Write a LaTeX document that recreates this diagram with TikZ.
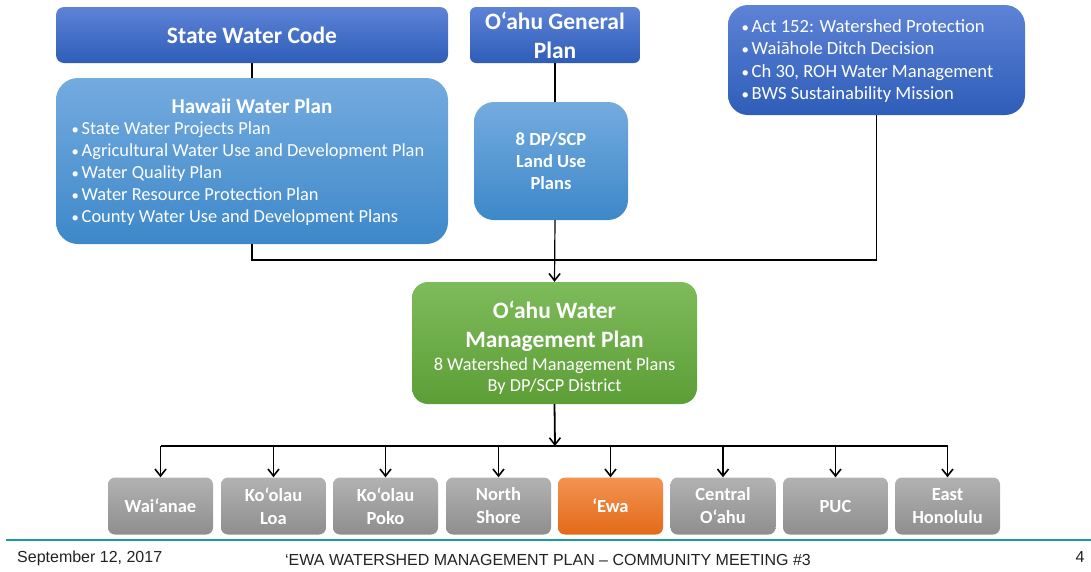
\documentclass[tikz,border=0pt]{standalone}
\usepackage{fontspec}
\usepackage{graphicx}
\setmainfont{Carlito}
\newfontfamily\footfont{Liberation Sans}
\usetikzlibrary{arrows.meta}

\definecolor{navyTop}{HTML}{5D83D6}
\definecolor{navyBot}{HTML}{2E5DB8}
\definecolor{skyTop}{HTML}{74ABDF}
\definecolor{skyBot}{HTML}{3D88C9}
\definecolor{leafTop}{HTML}{7EBB5B}
\definecolor{leafBot}{HTML}{5C9E36}
\definecolor{stoneTop}{HTML}{B2B2B2}
\definecolor{stoneBot}{HTML}{8E8E8E}
\definecolor{emberTop}{HTML}{F39352}
\definecolor{emberBot}{HTML}{E36A18}
\definecolor{rule}{HTML}{1A9C9C}
\definecolor{foottext}{HTML}{222222}

% small list bullet followed by a short gap
\newcommand\blt{\makebox[6pt][c]{\scalebox{0.8}{•}}\hspace{3.5pt}}

\tikzset{
  panel/.style={rounded corners=#1, inner sep=0pt, text=white, align=center},
  navy/.style={top color=navyTop, bottom color=navyBot},
  sky/.style={top color=skyTop, bottom color=skyBot},
  leaf/.style={top color=leafTop, bottom color=leafBot},
  stone/.style={top color=stoneTop, bottom color=stoneBot},
  ember/.style={top color=emberTop, bottom color=emberBot},
  district/.style={panel=7pt, minimum width=105pt, minimum height=57pt,
    font=\bfseries\fontsize{18.5}{23}\selectfont},
  txt/.style={inner sep=0pt, text=white},
  link/.style={line width=1.8pt, black},
  linkthin/.style={line width=1.2pt, black},
  tip/.style={-{Straight Barb[length=7pt,width=11pt,line width=1.6pt]}},
  foot/.style={inner sep=0pt, text=foottext, font=\footfont\fontsize{16}{18}\selectfont},
}

\begin{document}
\begin{tikzpicture}[x=1pt,y=-1pt]
\useasboundingbox (0,0) rectangle (1091,571);

% upper row of source documents
\node[panel=8pt, navy, minimum width=392pt, minimum height=56pt,
      font=\bfseries\fontsize{23.5}{26}\selectfont] (swc) at (252,35) {State Water Code};

\node[panel=22pt, sky, minimum width=392pt, minimum height=166pt] (hwp) at (252,161) {};
\node[txt, font=\bfseries\fontsize{21}{22}\selectfont] (hwpTitle) at (252,106) {Hawaii Water Plan};
\node[txt, anchor=west, align=left, font=\fontsize{18.4}{22}\selectfont] (hwpList) at (72,174)
  {\blt State Water Projects Plan\\
   \blt Agricultural Water Use and Development Plan\\
   \blt Water Quality Plan\\
   \blt Water Resource Protection Plan\\
   \blt County Water Use and Development Plans};

\node[panel=6pt, navy, minimum width=170pt, minimum height=56pt,
      font=\bfseries\fontsize{23.5}{29}\selectfont] (ogp) at (555,35) {O‘ahu General\\Plan};

\node[panel=20pt, sky, minimum width=154pt, minimum height=118pt,
      font=\bfseries\fontsize{18.5}{21.7}\selectfont] (dp) at (551,161) {8 DP/SCP\\Land Use\\Plans};

\node[panel=20pt, navy, minimum width=297pt, minimum height=110pt] (acts) at (876.5,60) {};
\node[txt, anchor=west, align=left, font=\fontsize{18.6}{22.5}\selectfont] (actsList) at (742,61)
  {\blt Act 152: Watershed Protection\\
   \blt Waiāhole Ditch Decision\\
   \blt Ch 30, ROH Water Management\\
   \blt BWS Sustainability Mission};

% central plan
\node[panel=16pt, leaf, minimum width=285pt, minimum height=122pt] (owmp) at (554.5,343) {};
\node[txt, align=center, font=\bfseries\fontsize{23.5}{29}\selectfont] (owmpTitle) at (554.5,326)
  {O‘ahu Water\\Management Plan};
\node[txt, align=center, font=\fontsize{18.3}{21.5}\selectfont] (owmpSub) at (554.5,376)
  {8 Watershed Management Plans\\By DP/SCP District};

% district plans
\node[district, stone] (d1) at (160.5,506) {Wai‘anae};
\node[district, stone] (d2) at (273.5,506) {Ko‘olau\\Loa};
\node[district, stone] (d3) at (385.5,506) {Ko‘olau\\Poko};
\node[district, stone] (d4) at (498.5,506) {North\\Shore};
\node[district, ember] (d5) at (610.5,506) {‘Ewa};
\node[district, stone] (d6) at (723,506) {Central\\O‘ahu};
\node[district, stone] (d7) at (835.5,506) {PUC};
\node[district, stone] (d8) at (947.5,506) {East\\Honolulu};

% connectors
\coordinate (merge) at (555,260);
\coordinate (bus) at (555,446);

\draw[link] (swc.south) -- (hwp.north);
\draw[link] (hwp.south) -- (hwp.south |- merge) -- (acts.south |- merge);
\draw[linkthin] (acts.south) -- (acts.south |- merge);
\draw[linkthin] (ogp.south) -- (ogp.south |- dp.north);
\draw[linkthin, tip] (dp.south -| merge) -- (owmp.north);
\draw[link, tip] (owmp.south) -- (bus);
\draw[link] (d1.north |- bus) -- (d8.north |- bus);
\foreach \d in {d1,d2,d3,d4,d5,d6,d7,d8}
  \draw[linkthin, tip] (\d.north |- bus) -- (\d.north);

% footer
\coordinate (ruleL) at (6,540);
\coordinate (ruleR) at (1091,540);
\draw[rule, line width=1.5pt] (ruleL) -- (ruleR);
\node[foot, anchor=west] (date) at (17,558) {September 12, 2017};
\node[foot] (meeting) at (548,560) {‘EWA WATERSHED MANAGEMENT PLAN – COMMUNITY MEETING \#3};
\node[foot] (page) at (1080,557) {4};
\end{tikzpicture}
\end{document}
